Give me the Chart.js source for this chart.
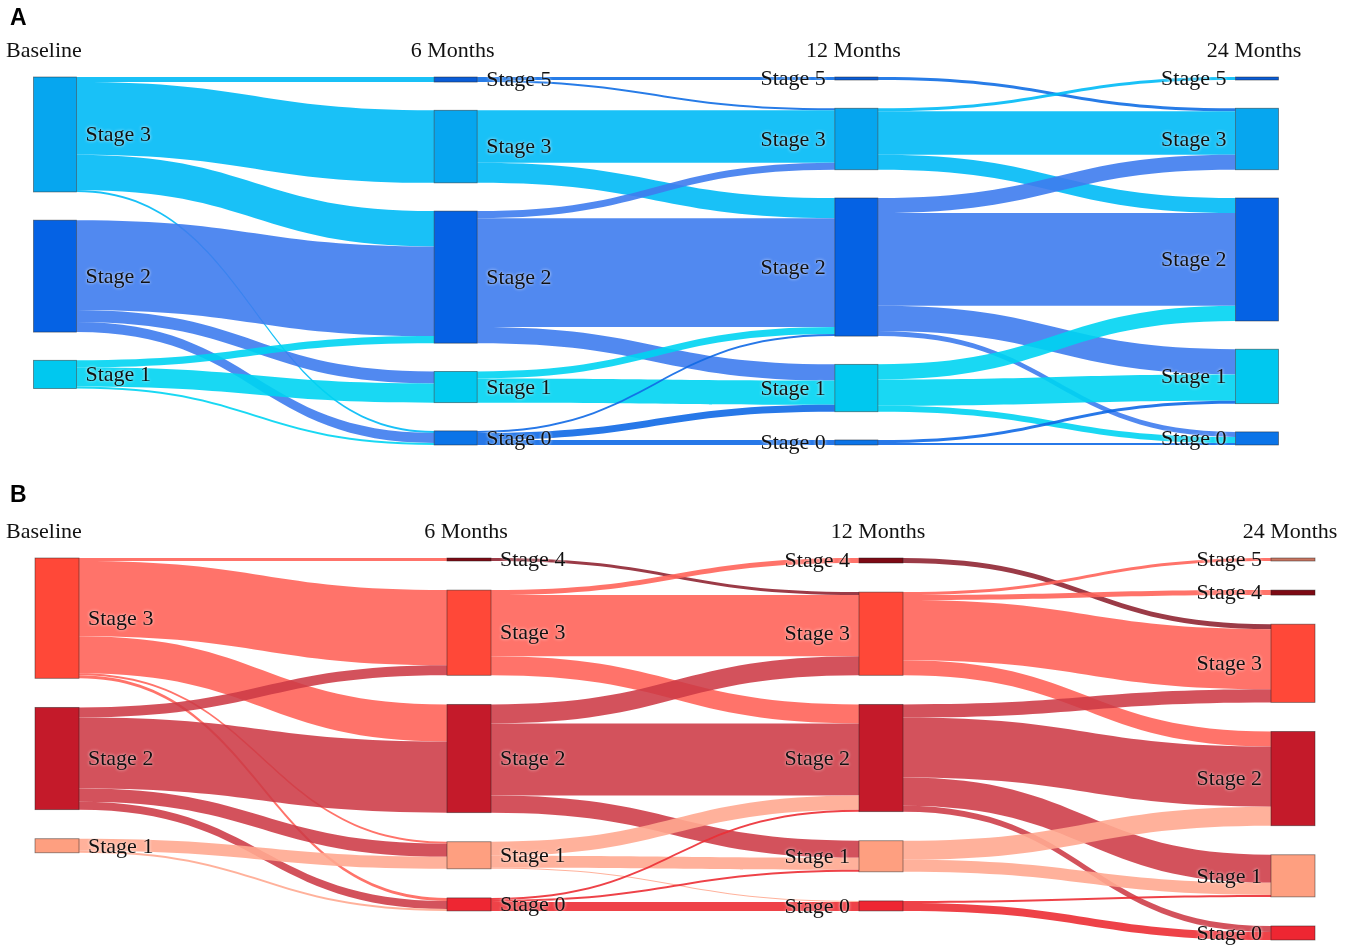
<!DOCTYPE html>
<html>
<head>
<meta charset="utf-8">
<script src="https://cdn.jsdelivr.net/npm/chart.js@4.4.0/dist/chart.umd.min.js"></script>
<style>
body { margin: 0; background: #fff; }
#wrap { position: relative; width: 1355px; height: 947px; }
canvas { position: absolute; left: 0; }
.tag { position: absolute; left: 10px; font: bold 23px "Liberation Sans", Arial, sans-serif; color: #000; }
</style>
</head>
<body>
<div id="wrap">
  <canvas id="chartA" width="1355" height="470" style="top:0"></canvas>
  <canvas id="chartB" width="1355" height="477" style="top:470px"></canvas>
  <div class="tag" style="top:4px">A</div>
  <div class="tag" style="top:481px">B</div>
</div>
<script>
const periods = ['Baseline', '6 Months', '12 Months', '24 Months'];

// panel A: stages in each column, top to bottom
const stagesA = [[3, 2, 1], [5, 3, 2, 1, 0], [5, 3, 2, 1, 0], [5, 3, 2, 1, 0]];
// [from column, from stage, to stage, patients]
const flowsA = [
  [0, 3, 5, 5], [0, 3, 3, 72], [0, 3, 2, 35], [0, 3, 0, 2],
  [0, 2, 2, 89], [0, 2, 1, 12], [0, 2, 0, 10],
  [0, 1, 2, 7], [0, 1, 1, 19], [0, 1, 0, 2],

  [1, 5, 5, 3], [1, 5, 3, 2],
  [1, 3, 3, 52], [1, 3, 2, 20],
  [1, 2, 3, 7], [1, 2, 2, 108], [1, 2, 1, 16],
  [1, 1, 2, 7], [1, 1, 1, 24],
  [1, 0, 2, 2], [1, 0, 1, 7], [1, 0, 0, 5],

  [2, 5, 3, 3],
  [2, 3, 5, 3], [2, 3, 3, 43], [2, 3, 2, 15],
  [2, 2, 3, 15], [2, 2, 2, 92], [2, 2, 1, 25], [2, 2, 0, 5],
  [2, 1, 2, 15], [2, 1, 1, 26], [2, 1, 0, 6],
  [2, 0, 1, 3], [2, 0, 0, 2]
];

// panel B
const stagesB = [[3, 2, 1], [4, 3, 2, 1, 0], [4, 3, 2, 1, 0], [5, 4, 3, 2, 1, 0]];
const flowsB = [
  [0, 3, 4, 3], [0, 3, 3, 75], [0, 3, 2, 37], [0, 3, 1, 2], [0, 3, 0, 3],
  [0, 2, 3, 10], [0, 2, 2, 71], [0, 2, 1, 13], [0, 2, 0, 8],
  [0, 1, 1, 12], [0, 1, 0, 2],

  [1, 4, 3, 3],
  [1, 3, 4, 5], [1, 3, 3, 61], [1, 3, 2, 19],
  [1, 2, 3, 19], [1, 2, 2, 72], [1, 2, 1, 17],
  [1, 1, 2, 14], [1, 1, 1, 12], [1, 1, 0, 1],
  [1, 0, 2, 2], [1, 0, 1, 2], [1, 0, 0, 9],

  [2, 4, 3, 5],
  [2, 3, 5, 3], [2, 3, 4, 5], [2, 3, 3, 60], [2, 3, 2, 15],
  [2, 2, 3, 13], [2, 2, 2, 60], [2, 2, 1, 28], [2, 2, 0, 6],
  [2, 1, 2, 19], [2, 1, 1, 12],
  [2, 0, 1, 2], [2, 0, 0, 8]
];

const styleA = {
  gap: 28, nodeWidth: 43,
  node: { 5: '#0a5cd6', 3: '#06a6ef', 2: '#0562e4', 1: '#00c8ef', 0: '#0b74e8' },
  link: { 5: 'rgba(15,110,228,0.9)', 3: 'rgba(0,186,246,0.9)', 2: 'rgba(62,124,238,0.9)',
          1: 'rgba(0,212,242,0.9)', 0: 'rgba(15,105,230,0.9)' }
};
const styleB = {
  gap: 29, nodeWidth: 44,
  node: { 5: '#c87560', 4: '#7d0a14', 3: '#ff4838', 2: '#c41a2a', 1: '#fe9f80', 0: '#ee2632' },
  link: { 5: 'rgba(200,117,96,0.85)', 4: 'rgba(130,10,25,0.8)', 3: 'rgba(255,100,90,0.9)',
          2: 'rgba(205,58,70,0.88)', 1: 'rgba(255,168,144,0.9)', 0: 'rgba(236,45,52,0.9)' }
};

function layout(stages, flows, gap) {
  const cols = stages.map((col, c) => col.map((s, i) => ({ stage: s, c, i, inV: 0, outV: 0, ins: [], outs: [] })));
  const links = flows.map(([c, a, b, v]) => {
    const src = cols[c].find(n => n.stage === a);
    const dst = cols[c + 1].find(n => n.stage === b);
    const l = { c, a, v, src, dst };
    src.outV += v; dst.inV += v;
    src.outs.push(l); dst.ins.push(l);
    return l;
  });
  let yMax = 0;
  cols.forEach(col => {
    let y = 0;
    col.forEach(n => {
      n.v = Math.max(n.inV, n.outV);
      n.y0 = y; n.y1 = y + n.v;
      y = n.y1 + gap;
    });
    yMax = Math.max(yMax, y - gap);
  });
  cols.flat().forEach(n => {
    let o = n.y0;
    n.outs.sort((p, q) => p.dst.i - q.dst.i).forEach(l => { l.sy = o; o += l.v; });
    let t = n.y0;
    n.ins.sort((p, q) => p.src.i - q.src.i).forEach(l => { l.ty = t; t += l.v; });
  });
  return { cols, links, yMax };
}

function sankeyPlugin(lay, st) {
  return {
    id: 'sankey',
    afterDatasetsDraw(chart) {
      const ctx = chart.ctx, xs = chart.scales.x, ys = chart.scales.y;
      const hw = st.nodeWidth / 2;
      ctx.save();
      // flows
      lay.links.forEach(l => {
        const x0 = xs.getPixelForValue(l.c) + hw, x1 = xs.getPixelForValue(l.c + 1) - hw, xm = (x0 + x1) / 2;
        const a0 = ys.getPixelForValue(l.sy), a1 = ys.getPixelForValue(l.sy + l.v);
        const b0 = ys.getPixelForValue(l.ty), b1 = ys.getPixelForValue(l.ty + l.v);
        ctx.fillStyle = st.link[l.a];
        ctx.beginPath();
        ctx.moveTo(x0, a0);
        ctx.bezierCurveTo(xm, a0, xm, b0, x1, b0);
        ctx.lineTo(x1, b1);
        ctx.bezierCurveTo(xm, b1, xm, a1, x0, a1);
        ctx.closePath();
        ctx.fill();
      });
      // nodes
      lay.cols.flat().forEach(n => {
        const cx = xs.getPixelForValue(n.c);
        const t = ys.getPixelForValue(n.y0), b = ys.getPixelForValue(n.y1);
        ctx.fillStyle = st.node[n.stage];
        ctx.fillRect(cx - hw, t, st.nodeWidth, b - t);
        ctx.strokeStyle = 'rgba(30,30,30,0.55)';
        ctx.lineWidth = 0.8;
        ctx.strokeRect(cx - hw, t, st.nodeWidth, b - t);
      });
      // node labels
      ctx.font = '22px "Liberation Serif", "Times New Roman", serif';
      ctx.fillStyle = '#111';
      ctx.textBaseline = 'middle';
      ctx.shadowColor = 'rgba(255,255,255,0.9)';
      ctx.shadowBlur = 3;
      lay.cols.flat().forEach(n => {
        const cx = xs.getPixelForValue(n.c);
        const ym = (ys.getPixelForValue(n.y0) + ys.getPixelForValue(n.y1)) / 2;
        const left = n.c < 2;
        ctx.textAlign = left ? 'left' : 'right';
        ctx.fillText('Stage ' + n.stage, left ? cx + hw + 9 : cx - hw - 9, ym + 1);
      });
      // column titles
      ctx.textBaseline = 'alphabetic';
      const ty = chart.chartArea.top - 20;
      periods.forEach((p, c) => {
        if (c === 0) { ctx.textAlign = 'left'; ctx.fillText(p, 6, ty); }
        else { ctx.textAlign = 'center'; ctx.fillText(p, xs.getPixelForValue(c) - 3, ty); }
      });
      ctx.restore();
    }
  };
}

function makeChart(id, stages, flows, st, pad) {
  const lay = layout(stages, flows, st.gap);
  return new Chart(document.getElementById(id), {
    type: 'scatter',
    data: { datasets: [{ data: [] }] },
    options: {
      responsive: false,
      animation: false,
      layout: { padding: pad },
      scales: {
        x: { type: 'linear', min: 0, max: periods.length - 1, display: false },
        y: { type: 'linear', min: 0, max: lay.yMax, reverse: true, display: false }
      },
      plugins: { legend: { display: false }, tooltip: { enabled: false } }
    },
    plugins: [sankeyPlugin(lay, st)]
  });
}

makeChart('chartA', stagesA, flowsA, styleA, { left: 55, right: 98, top: 77, bottom: 25 });
makeChart('chartB', stagesB, flowsB, styleB, { left: 57, right: 62, top: 88, bottom: 7 });
</script>
</body>
</html>
